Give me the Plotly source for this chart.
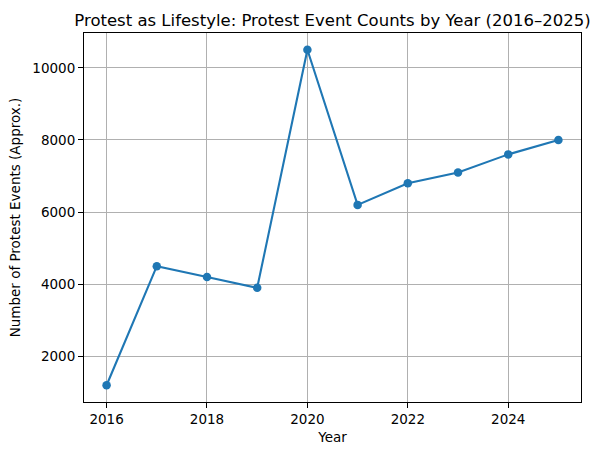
import plotly.graph_objects as go

years = [2016, 2017, 2018, 2019, 2020, 2021, 2022, 2023, 2024, 2025]
counts = [1200, 4500, 4200, 3900, 10500, 6200, 6800, 7100, 7600, 8000]
x_ticks = [2016, 2018, 2020, 2022, 2024]
y_ticks = [2000, 4000, 6000, 8000, 10000]

FONT = "DejaVu Sans"

fig = go.Figure()
fig.add_trace(go.Scatter(
    x=years, y=counts, mode="lines+markers",
    line=dict(color="#1f77b4", width=2.1),
    marker=dict(color="#1f77b4", size=8.5),
    showlegend=False,
))

axis_common = dict(
    showgrid=True, gridcolor="#b0b0b0", gridwidth=1.1,
    showline=True, linecolor="black", linewidth=1.1, mirror=True,
    ticks="outside", ticklen=5, tickwidth=1.1, tickcolor="black",
    tickfont=dict(family=FONT, size=13.5, color="black"),
    zeroline=False, automargin=False, tickformat="d",
)

fig.update_layout(
    width=601, height=455,
    margin=dict(l=84, r=20, t=33, b=53),
    paper_bgcolor="white", plot_bgcolor="white",
    title=dict(
        text="Protest as Lifestyle: Protest Event Counts by Year (2016–2025)",
        font=dict(family=FONT, size=16.5, color="black"),
        x=0.5, xref="paper", xanchor="center",
        y=1, yref="paper", yanchor="bottom", pad=dict(b=7),
    ),
    xaxis=dict(
        range=[2015.55, 2025.45], tickvals=x_ticks,
        title=dict(text="Year", font=dict(family=FONT, size=13.5, color="black"), standoff=6),
        **axis_common,
    ),
    yaxis=dict(
        range=[735, 10965], tickvals=y_ticks,
        title=dict(text="Number of Protest Events (Approx.)", font=dict(family=FONT, size=13.5, color="black"), standoff=8),
        **axis_common,
    ),
)

fig.write_html(
    "out.html",
    config={"displayModeBar": False},
    post_script="document.body.style.margin='0';document.body.style.overflow='hidden';",
)
